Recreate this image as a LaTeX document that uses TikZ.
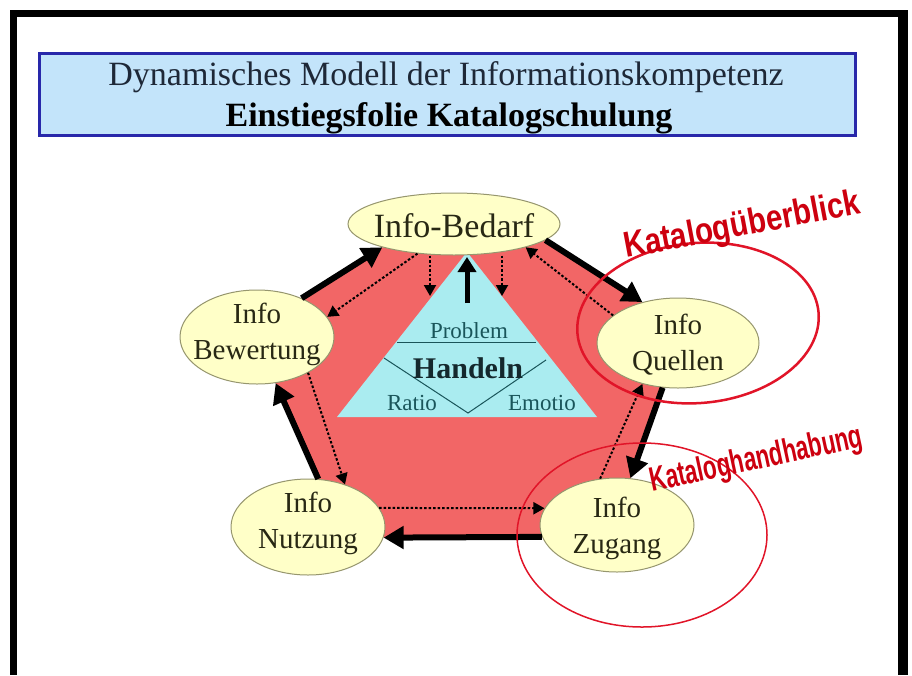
\documentclass[tikz,border=0pt]{standalone}
\usepackage{fontspec}
\setmainfont{Liberation Serif}
\newfontfamily\wordartfont{Liberation Sans}
\usetikzlibrary{arrows.meta,shapes.geometric}
\pgfdeclarelayer{background}
\pgfsetlayers{background,main}
\definecolor{titlefill}{RGB}{195,228,250}
\definecolor{titleline}{RGB}{40,40,170}
\definecolor{titletext}{RGB}{30,40,55}
\definecolor{pentred}{RGB}{242,102,102}
\definecolor{ellfill}{RGB}{255,255,200}
\definecolor{elldraw}{RGB}{150,150,110}
\definecolor{elltext}{RGB}{40,40,20}
\definecolor{trifill}{RGB}{170,236,240}
\definecolor{tritext}{RGB}{25,85,90}
\definecolor{handtext}{RGB}{20,40,45}
\definecolor{markred}{RGB}{225,20,40}
\definecolor{wordred}{RGB}{205,0,15}
\begin{document}
\begin{tikzpicture}[x=1pt,y=-1pt,
  infoshape/.style={ellipse, draw=elldraw, line width=1pt, fill=ellfill, inner sep=0pt},
  infolabel/.style={text=elltext, align=center, inner sep=0pt, font=\fontsize{29}{36}\selectfont},
  thickarrow/.style={line width=6pt, -{Triangle[length=20pt,width=22pt]}},
  dotarrow/.style={line width=2pt, dash pattern=on 2.5pt off 2pt, -{Triangle[length=11pt,width=12pt]}},
  tritxt/.style={text=tritext, inner sep=0pt, anchor=base, font=\fontsize{23}{28}\selectfont},
  wordart/.style={inner sep=0pt, anchor=base west, text=wordred},
  catring/.style={draw=markred}
]
\useasboundingbox (0,0) rectangle (912,675);
\begin{pgfonlayer}{background}
\fill[white] (0,0) rectangle (912,675);
\end{pgfonlayer}

% frame
\fill[black] (10,10) rectangle (908,17);
\fill[black] (10,10) rectangle (17,675);
\fill[black] (898,10) rectangle (908,675);

% title
\node[draw=titleline, line width=3pt, fill=titlefill, minimum width=816pt, minimum height=82pt, inner sep=0pt] (titlebox) at (447,94) {};
\node[anchor=base, inner sep=0pt, text=titletext, font=\fontsize{34}{40}\selectfont] (t1) at (446,85) {Dynamisches Modell der Informationskompetenz};
\node[anchor=base, inner sep=0pt, text=black, font=\bfseries\fontsize{34}{40}\selectfont] (t2) at (449,126) {Einstiegsfolie Katalogschulung};

% ellipses
\node[infoshape, minimum width=212pt, minimum height=62pt] (bedarf) at (454,224) {};
\node[infolabel, font=\fontsize{34}{40}\selectfont] (bedarf-t) at (454,226) {Info-Bedarf};
\node[infoshape, minimum width=154pt, minimum height=94pt] (bewert) at (257,337) {};
\node[infolabel] (bewert-t) at (257,334) {Info\\Bewertung};
\node[infoshape, minimum width=162pt, minimum height=90pt] (quellen) at (678,343) {};
\node[infolabel] (quellen-t) at (678,345) {Info\\Quellen};
\node[infoshape, minimum width=154pt, minimum height=94pt] (zugang) at (617,525) {};
\node[infolabel] (zugang-t) at (617,528) {Info\\Zugang};
\node[infoshape, minimum width=154pt, minimum height=96pt] (nutzung) at (308,527) {};
\node[infolabel] (nutzung-t) at (308,523) {Info\\Nutzung};

% triangle corners
\coordinate (apex) at (467,252);
\coordinate (bl) at (337,417);
\coordinate (br) at (597,417);

\begin{pgfonlayer}{background}
\fill[pentred] (bewert.41) -- (bedarf.198) -- (bedarf.350) -- (quellen.131.5) -- (quellen.251)
  -- (zugang.74) -- (zugang.189) -- (nutzung.352.4) -- (nutzung.78.7) -- (bewert.292.6) -- cycle;
\fill[trifill] (apex) -- (bl) -- (br) -- cycle;
\end{pgfonlayer}

% triangle inner lines and text
\draw[tritext, line width=1pt] (397,342) -- (536,342);
\draw[tritext, line width=1pt] (384,358) -- (468,413) -- (546,360);
\node[tritxt] (problem) at (469,338) {Problem};
\node[tritxt, text=handtext, font=\bfseries\fontsize{30}{36}\selectfont] (handeln) at (468,378) {Handeln};
\node[tritxt] (ratio) at (412,410) {Ratio};
\node[tritxt] (emotio) at (542,410) {Emotio};

% arrow inside triangle
\coordinate (hb) at (467,303);
\draw[line width=5pt, -{Triangle[length=15pt,width=18pt]}, shorten >=5pt] (hb) -- (apex);

% dotted arrows from Info-Bedarf down
\coordinate (dl) at (430,296);
\coordinate (dr) at (502,296);
\draw[dotarrow] (bedarf.south -| dl) -- (dl);
\draw[dotarrow] (bedarf.south -| dr) -- (dr);

% thick cycle arrows
\draw[thickarrow] (bewert.41) -- (bedarf.198);
\draw[thickarrow] (bedarf.350) -- (quellen.131.5);
\draw[thickarrow] (quellen.251) -- (zugang.74);
\draw[thickarrow] (zugang.189) -- (nutzung.352.4);
\draw[thickarrow] (nutzung.78.7) -- (bewert.292.6);

% dotted reverse arrows
\draw[dotarrow] (bedarf.219) -- (bewert.16.8);
\draw[dotarrow] (quellen.157) -- (bedarf.342);
\draw[dotarrow] (zugang.110) -- (quellen.229);
\draw[dotarrow] (nutzung.15) -- (zugang.167);
\draw[dotarrow] (bewert.325) -- (nutzung.49);

% red rings
\draw[catring, line width=2.5pt, rotate around={5:(698,323)}] (698,323) ellipse [x radius=121, y radius=80];
\draw[catring, line width=1.5pt] (642,535) ellipse [x radius=125, y radius=92];

% word art labels
\node[wordart, rotate=10.7, font=\wordartfont\bfseries\fontsize{36}{42}\selectfont] (kub) at (626,258) {\scalebox{0.82}[1]{Katalogüberblick}};
\node[wordart, rotate=12.1, font=\wordartfont\bfseries\fontsize{34}{40}\selectfont] (khh) at (652,492) {\scalebox{0.66}[1]{Kataloghandhabung}};
\end{tikzpicture}
\end{document}
